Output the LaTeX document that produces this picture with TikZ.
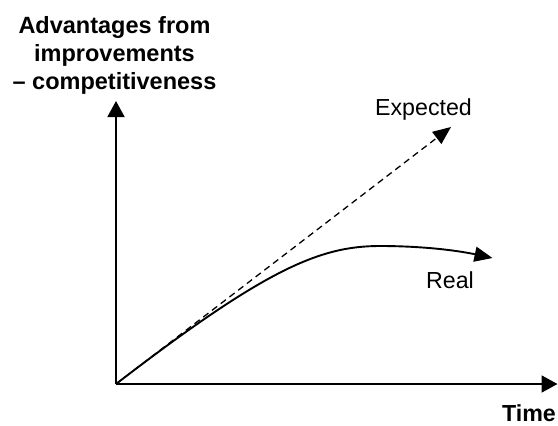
\documentclass[tikz,border=0pt]{standalone}
\usepackage{fontspec}
\setmainfont{Liberation Sans}
\usetikzlibrary{arrows.meta}
\tikzset{
  axisline/.style={line width=1.9pt, -{Triangle[length=16pt,width=17pt]}},
  realline/.style={line width=1.9pt, -{Triangle[length=18pt,width=15pt]}},
  expline/.style={line width=1.3pt, dash pattern=on 6.5pt off 4.5pt, -{Triangle[length=18pt,width=15pt]}},
  lbl/.style={inner sep=0pt, font=\fontsize{23.2}{28}\selectfont},
  ttl/.style={inner sep=0pt, align=center, font=\fontsize{23.5}{28}\selectfont\bfseries}
}
\begin{document}
\begin{tikzpicture}[x=1pt,y=-1pt]
\useasboundingbox (0,0) rectangle (558,426);
\coordinate (O) at (116,384);
\coordinate (ytip) at (116,101);
\coordinate (xtip) at (557.5,384);
\coordinate (etip) at (451,127);
\coordinate (peak) at (380,246);
\coordinate (rtip) at (492.5,258);
\draw[axisline] (O) -- (ytip);
\draw[axisline] (O) -- (xtip);
\draw[expline] (O) -- (etip);
\draw[realline] (O) .. controls (266,268.6) and (320,246) .. (peak)
  .. controls (420,246) and (455,250) .. (rtip);
\node[ttl, anchor=base] (title) at (114.5,89) {Advantages from\\improvements\\– competitiveness};
\node[lbl, anchor=base] (exp) at (423.5,115) {Expected};
\node[lbl, anchor=base] (real) at (450,288) {Real};
\node[lbl, anchor=base, font=\fontsize{23.2}{28}\selectfont\bfseries] (time) at (529,421) {Time};
\end{tikzpicture}
\end{document}
